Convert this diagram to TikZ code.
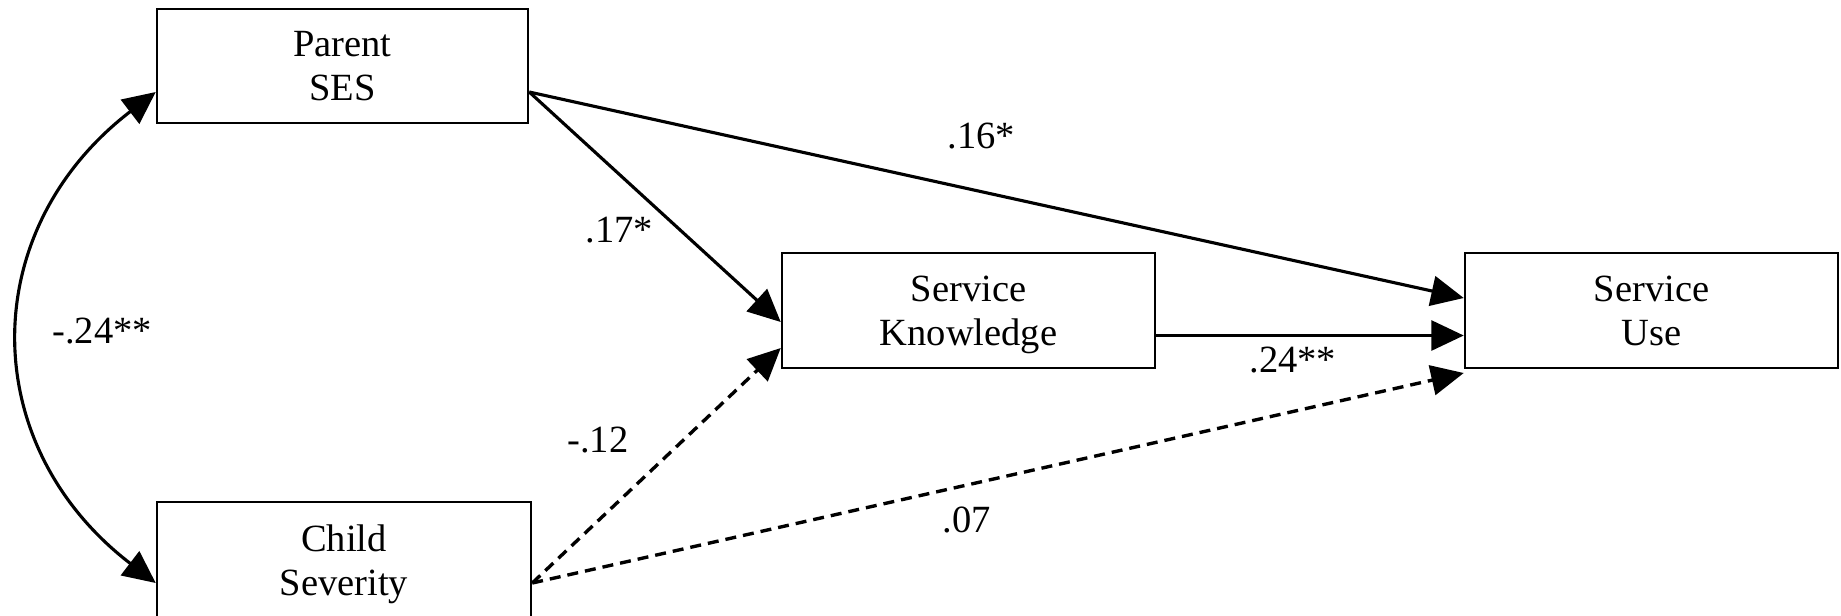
\documentclass[tikz,border=0pt]{standalone}
\usepackage{fontspec}
\setmainfont{Liberation Serif}
\usetikzlibrary{arrows.meta,calc}
\begin{document}
\begin{tikzpicture}[x=0.4pt,y=-0.4pt,
  >={Triangle[length=13pt,width=12pt]},
  box/.style={draw=black, line width=1pt, align=center, inner sep=0pt,
    font=\fontsize{15.4}{17.6}\selectfont},
  conn/.style={->, line width=1.25pt, black},
  dline/.style={dash pattern=on 4.4pt off 2.8pt, line width=1.35pt},
  lbl/.style={anchor=base west, inner sep=0pt, font=\fontsize{15.4}{17.6}\selectfont}]
\useasboundingbox (0,0) rectangle (1841,615);
% boxes
\node[box, minimum width=148.4pt, minimum height=45.6pt] (PS) at (342.5,66) {Parent\\SES};
\node[box, minimum width=149.6pt, minimum height=49.6pt] (CS) at (344,564) {Child\\Severity};
\node[box, minimum width=149.2pt, minimum height=46pt, text depth=0pt] (SK) at (968.5,310.5) {Service\\Knowledge};
\node[box, minimum width=149.2pt, minimum height=46pt] (SU) at (1651.5,310.5) {Service\\Use};
% attachment points
\coordinate (psout) at ($(PS.east)+(0,26)$);
\coordinate (psin)  at ($(PS.west)+(0,26)$);
\coordinate (csout) at ($(CS.east)+(0,19)$);
\coordinate (csin)  at ($(CS.west)+(0,19)$);
\coordinate (skinA) at ($(SK.west)+(0,11.5)$);
\coordinate (skinB) at ($(SK.west)+(0,37.5)$);
\coordinate (skout) at ($(SK.east)+(0,25)$);
\coordinate (suinA) at ($(SU.west)+(0,-12.5)$);
\coordinate (suinB) at ($(SU.west)+(0,25)$);
\coordinate (suinC) at ($(SU.west)+(0,62.5)$);
% connectors
\draw[conn] (psout) -- (skinA);
\draw[conn] (psout) -- (suinA);
\draw[conn] (skout) -- (suinB);
\draw[conn, dline] (csout) -- (skinB);
\draw[conn, dline] (csout) -- (suinC);
\draw[conn, <->] (psin) .. controls (-24,230) and (-24,445) .. (csin);
% labels
\node[lbl] (l1) at (52,343) {-.24**};
\node[lbl] (l2) at (585,242) {.17*};
\node[lbl] (l3) at (567,452) {-.12};
\node[lbl] (l4) at (947,148) {.16*};
\node[lbl] (l5) at (1249,372) {.24**};
\node[lbl] (l6) at (942,532) {.07};
\end{tikzpicture}
\end{document}
